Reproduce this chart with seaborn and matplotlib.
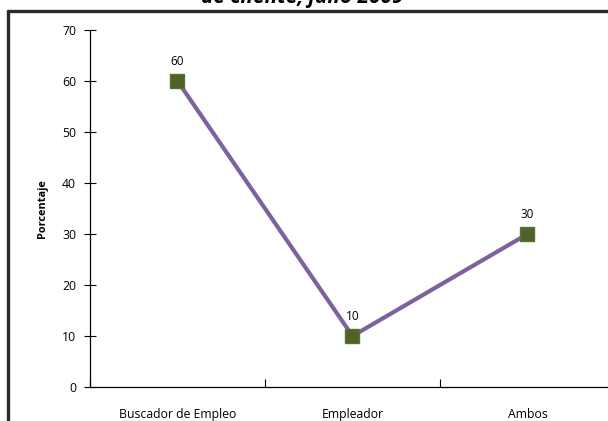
import matplotlib
matplotlib.use("Agg")
import matplotlib.pyplot as plt
import seaborn as sns
import pandas as pd
from matplotlib.lines import Line2D

categorias = ["Buscador de Empleo", "Empleador", "Ambos"]
porcentajes = [60, 10, 30]
titulo = "de cliente, julio 2009"

sns.set_style("white")
plt.rcParams["font.family"] = ["Open Sans", "DejaVu Sans"]
plt.rcParams["text.color"] = "black"
plt.rcParams["xtick.color"] = "black"
plt.rcParams["ytick.color"] = "black"
plt.rcParams["axes.labelcolor"] = "black"

df = pd.DataFrame({"categoria": categorias, "porcentaje": porcentajes})

fig = plt.figure(figsize=(6.08, 4.21), dpi=100)
ax = fig.add_axes([90 / 608, 34 / 421, 525 / 608, 357 / 421])

sns.lineplot(data=df, x="categoria", y="porcentaje", ax=ax, color="#7e62a0",
             linewidth=3, marker="s", markersize=9.5, markerfacecolor="#4f6228",
             markeredgecolor="#5c7230", markeredgewidth=1.0, sort=False)

for i, v in enumerate(porcentajes):
    ax.annotate(str(v), (i, v), xytext=(0, 9), textcoords="offset points",
                ha="center", va="bottom", fontsize=8.5)

ax.set_xlim(-0.5, 2.5)
ax.set_ylim(0, 70)
ax.set_yticks(range(0, 71, 10))
ax.set_xticks(range(len(categorias)))
ax.set_xticklabels(categorias)
ax.set_xticks([-0.5, 0.5, 1.5, 2.5], minor=True)
ax.tick_params(axis="x", which="major", length=0, pad=15, labelsize=8.8)
ax.tick_params(axis="x", which="minor", direction="in", length=6, width=0.8, bottom=True)
ax.tick_params(axis="y", direction="inout", length=8, width=0.8, left=True, labelsize=8.8, pad=6)
for s in ["top", "right"]:
    ax.spines[s].set_visible(False)
for s in ["left", "bottom"]:
    ax.spines[s].set_color("black")
    ax.spines[s].set_linewidth(0.9)

ax.set_xlabel("")
ax.set_ylabel("Porcentaje", fontsize=7.8, fontweight="bold", labelpad=10)

# marco exterior recortado
fig.add_artist(Line2D([8 / 608, 8 / 608], [0, 1 - 10.5 / 421], transform=fig.transFigure,
                      color="#2a2a2a", linewidth=2.4))
fig.add_artist(Line2D([8 / 608, 1], [1 - 10.5 / 421, 1 - 10.5 / 421], transform=fig.transFigure,
                      color="#2a2a2a", linewidth=2.4))
fig.text(0.497, 1 - 3 / 421, titulo, ha="center", va="baseline", fontsize=15,
         fontweight="bold", fontstyle="italic")

fig.savefig("out.png", dpi=100)
